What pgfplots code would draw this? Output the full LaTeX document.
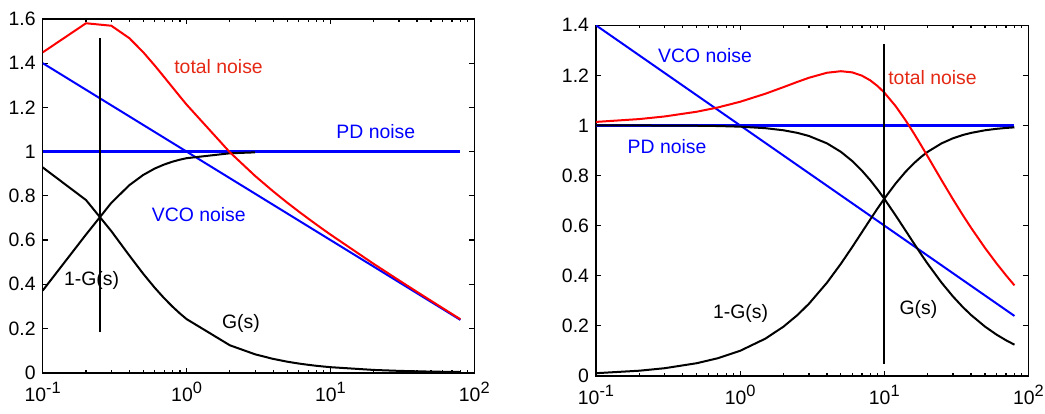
\documentclass[border=0pt]{standalone}
\usepackage{fontspec}
\setmainfont{Liberation Sans}
\usepackage{pgfplots}
\pgfplotsset{compat=1.18}
\definecolor{lnred}{RGB}{255,0,0}
\definecolor{lnblue}{RGB}{0,0,255}
\definecolor{txtred}{RGB}{228,40,20}
\newcommand{\tenpow}[1]{10\raisebox{4.1pt}{\fontsize{8.2}{9}\selectfont #1}}
\begin{document}
\begin{tikzpicture}[font=\fontsize{9.7}{11}\selectfont]
\path[use as bounding box] (0,0) rectangle (522.5pt,-206.5pt);
% ---------------- left ----------------
\begin{axis}[scale only axis, xmode=log, xmin=0.1, xmax=100, ymin=0,
  anchor=south west,
  axis line style={line width=0.8pt},
  major tick style={line width=0.6pt, black},
  minor tick style={line width=0.6pt, black},
  major tick length=2.5pt, minor tick length=1.5pt,
  tick align=inside,
  xtick={0.1,1,10,100},
  xticklabels={\tenpow{-1},\tenpow{0},\tenpow{1},\tenpow{2}},
  tick label style={font=\fontsize{9.7}{11}\selectfont},
  xticklabel style={yshift=-1pt},
  /pgf/number format/assume math mode=true,
  at={(21.35pt,-186.35pt)}, width=215.8pt, height=176.9pt,
  ymax=1.6, ytick={0,0.2,...,1.6}]
\addplot[lnblue, line width=1.1pt] coordinates {(0.1,1) (80,1)};
\addplot[lnblue, line width=1pt] coordinates {(0.1,1.4) (80,0.2388)};
\addplot[black, line width=1pt] coordinates {
(0.1,0.9285) (0.2,0.7809) (0.3,0.6402) (0.4,0.5300) (0.5,0.4472) (0.6,0.3846)
(0.7,0.3363) (0.8,0.2983) (0.9,0.2676) (1,0.2425) (2,0.1240) (3,0.0830)
(4,0.0624) (5,0.0499) (6,0.0416) (7,0.0357) (8,0.0312) (9,0.0278) (10,0.0250)
(20,0.0125) (30,0.0083) (40,0.0063) (50,0.0050) (60,0.0042) (70,0.0036) (80,0.0031)};
\addplot[black, line width=1pt] coordinates {
(0.1,0.3714) (0.2,0.6247) (0.3,0.7682) (0.4,0.8480) (0.5,0.8944) (0.6,0.9231)
(0.7,0.9417) (0.8,0.9545) (0.9,0.9635) (1,0.9701) (2,0.9923) (3,0.9965)};
\addplot[lnred, line width=1pt] coordinates {
(0.1,1.4485) (0.2,1.5803) (0.3,1.5691) (0.4,1.5130) (0.5,1.4493) (0.6,1.3896)
(0.7,1.3364) (0.8,1.2898) (0.9,1.2487) (1,1.2126) (2,0.9968) (3,0.8894)
(4,0.8201) (5,0.7694) (6,0.7297) (7,0.6973) (8,0.6697) (9,0.6458) (10,0.6248)
(20,0.4920) (30,0.4175) (40,0.3654) (50,0.3254) (60,0.2929) (70,0.2655) (80,0.2419)};
\addplot[black, line width=1pt] coordinates {(0.25,0.182) (0.25,1.514)};
\node[anchor=west, text=txtred, inner sep=0pt] at (axis cs:0.817,1.383) {total noise};
\node[anchor=west, text=lnblue, inner sep=0pt] at (axis cs:10.94,1.09) {PD noise};
\node[anchor=west, text=lnblue, inner sep=0pt] at (axis cs:0.571,0.715) {VCO noise};
\node[anchor=west, text=black, inner sep=0pt] at (axis cs:0.14,0.418) {1-G(s)};
\node[anchor=west, text=black, inner sep=0pt] at (axis cs:1.754,0.222) {G(s)};
\end{axis}
% ---------------- right ----------------
\begin{axis}[scale only axis, xmode=log, xmin=0.1, xmax=100, ymin=0,
  anchor=south west,
  axis line style={line width=0.8pt},
  major tick style={line width=0.6pt, black},
  minor tick style={line width=0.6pt, black},
  major tick length=2.5pt, minor tick length=1.5pt,
  tick align=inside,
  xtick={0.1,1,10,100},
  xticklabels={\tenpow{-1},\tenpow{0},\tenpow{1},\tenpow{2}},
  tick label style={font=\fontsize{9.7}{11}\selectfont},
  xticklabel style={yshift=-1pt},
  /pgf/number format/assume math mode=true,
  at={(298pt,-187.85pt)}, width=216.2pt, height=175.2pt,
  ymax=1.4, ytick={0,0.2,...,1.4}]
\addplot[lnblue, line width=1.1pt] coordinates {(0.1,1) (80,1)};
\addplot[lnblue, line width=1pt] coordinates {(0.1,1.4) (80,0.2388)};
\addplot[black, line width=1pt] coordinates {
(0.1,0.99995) (0.2,0.9998) (0.3,0.99955) (0.5,0.99875) (0.7,0.99756) (1,0.99504)
(1.5,0.98893) (2,0.98058) (2.5,0.97014) (3,0.95783) (4,0.92848) (5,0.89443)
(6,0.85749) (7,0.81923) (8,0.78087) (9,0.74329) (10,0.70711) (12,0.64018)
(14,0.58124) (16,0.53000) (18,0.48564) (20,0.44721) (25,0.37139) (30,0.31623)
(35,0.27472) (40,0.24254) (50,0.19612) (60,0.16440) (70,0.14142) (80,0.12403)};
\addplot[black, line width=1pt] coordinates {
(0.1,0.0100) (0.2,0.0200) (0.3,0.0300) (0.5,0.04994) (0.7,0.06983) (1,0.09950)
(1.5,0.14834) (2,0.19612) (2.5,0.24254) (3,0.28735) (4,0.37139) (5,0.44721)
(6,0.51450) (7,0.57346) (8,0.62470) (9,0.66896) (10,0.70711) (12,0.76822)
(14,0.81373) (16,0.84800) (18,0.87416) (20,0.89443) (25,0.92848) (30,0.94868)
(35,0.96152) (40,0.97014) (50,0.98058) (60,0.98639) (70,0.98995) (80,0.99228)};
\addplot[lnred, line width=1pt] coordinates {
(0.1,1.0140) (0.2,1.0254) (0.3,1.0359) (0.5,1.0547) (0.7,1.0717) (1,1.0945)
(1.5,1.1268) (2,1.1531) (2.5,1.1741) (3,1.1903) (4,1.2104) (5,1.2166)
(6,1.2119) (7,1.1988) (8,1.1799) (9,1.1569) (10,1.1314) (12,1.0768)
(14,1.0219) (16,0.9696) (18,0.9209) (20,0.8762) (25,0.7807) (30,0.7044)
(35,0.6424) (40,0.5910) (50,0.5103) (60,0.4492) (70,0.4008) (80,0.3610)};
\addplot[black, line width=1pt] coordinates {(10,0.048) (10,1.325)};
\node[anchor=west, text=lnblue, inner sep=0pt] at (axis cs:0.268,1.278) {VCO noise};
\node[anchor=west, text=txtred, inner sep=0pt] at (axis cs:10.6,1.192) {total noise};
\node[anchor=west, text=lnblue, inner sep=0pt] at (axis cs:0.165,0.914) {PD noise};
\node[anchor=west, text=black, inner sep=0pt] at (axis cs:0.645,0.247) {1-G(s)};
\node[anchor=west, text=black, inner sep=0pt] at (axis cs:12.7,0.264) {G(s)};
\end{axis}
\end{tikzpicture}
\end{document}
